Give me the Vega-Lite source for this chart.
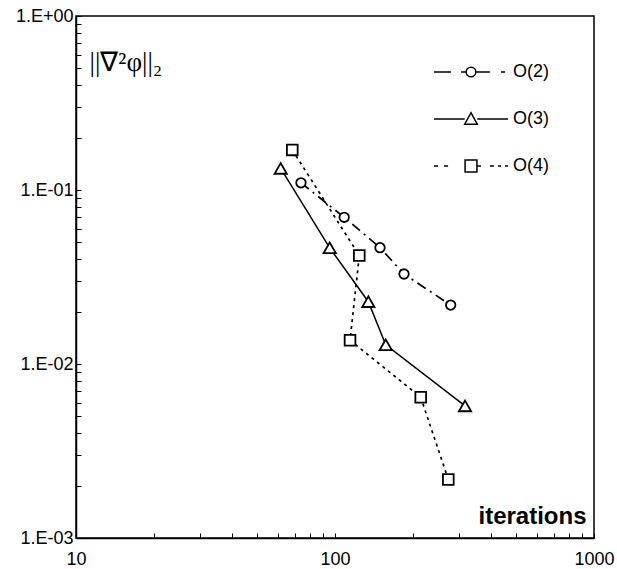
{
  "$schema": "https://vega.github.io/schema/vega-lite/v6.json",
  "width": 518,
  "height": 522,
  "autosize": {"type": "none"},
  "padding": {"left": 76, "top": 16, "right": 23, "bottom": 31},
  "background": "white",
  "config": {"view": {"stroke": "black", "strokeWidth": 1.5}, "font": "Liberation Sans"},
  "data": {"values": [
    {"series": "O(2)", "ord": 1, "x": 73.9, "y": 0.110},
    {"series": "O(2)", "ord": 2, "x": 108.5, "y": 0.0697},
    {"series": "O(2)", "ord": 3, "x": 149.2, "y": 0.0466},
    {"series": "O(2)", "ord": 4, "x": 184.7, "y": 0.0329},
    {"series": "O(2)", "ord": 5, "x": 279.7, "y": 0.0218},
    {"series": "O(3)", "ord": 1, "x": 61.7, "y": 0.133},
    {"series": "O(3)", "ord": 2, "x": 95.4, "y": 0.0465},
    {"series": "O(3)", "ord": 3, "x": 134.5, "y": 0.0228},
    {"series": "O(3)", "ord": 4, "x": 157.0, "y": 0.0129},
    {"series": "O(3)", "ord": 5, "x": 317.7, "y": 0.00574},
    {"series": "O(4)", "ord": 1, "x": 68.4, "y": 0.170},
    {"series": "O(4)", "ord": 2, "x": 124.1, "y": 0.042},
    {"series": "O(4)", "ord": 3, "x": 114.3, "y": 0.0137},
    {"series": "O(4)", "ord": 4, "x": 214.3, "y": 0.00644},
    {"series": "O(4)", "ord": 5, "x": 273.8, "y": 0.00217}
  ]},
  "encoding": {
    "x": {
      "field": "x", "type": "quantitative",
      "scale": {"type": "log", "domain": [10, 1000], "nice": false},
      "axis": {
        "values": [10, 20, 30, 40, 50, 60, 70, 80, 90, 100, 200, 300, 400, 500, 600, 700, 800, 900, 1000],
        "labelExpr": "datum.value == 10 ? '10' : datum.value == 100 ? '100' : datum.value == 1000 ? '1000' : ''",
        "labelOverlap": false, "labelFlush": false,
        "labelFont": "Liberation Sans", "labelFontSize": 18, "labelColor": "black",
        "tickSize": -5, "tickColor": "black", "tickWidth": 1, "labelPadding": 17,
        "domainColor": "black", "domainWidth": 1.5, "grid": false,
        "title": "iterations", "titleFont": "Liberation Sans", "titleFontWeight": "bold",
        "titleFontSize": 24, "titleColor": "black", "titleAlign": "right",
        "titleBaseline": "alphabetic", "titleX": 510, "titleY": -15
      }
    },
    "y": {
      "field": "y", "type": "quantitative",
      "scale": {"type": "log", "domain": [0.001, 1], "nice": false},
      "axis": {
        "values": [0.001, 0.002, 0.003, 0.004, 0.005, 0.006, 0.007, 0.008, 0.009, 0.01, 0.02, 0.03, 0.04, 0.05, 0.06, 0.07, 0.08, 0.09, 0.1, 0.2, 0.3, 0.4, 0.5, 0.6, 0.7, 0.8, 0.9, 1],
        "labelExpr": "datum.value == 1 ? '1.E+00' : datum.value == 0.1 ? '1.E-01' : datum.value == 0.01 ? '1.E-02' : datum.value == 0.001 ? '1.E-03' : ''",
        "labelOverlap": false, "labelFlush": false,
        "labelFont": "Liberation Sans", "labelFontSize": 18, "labelColor": "black",
        "tickSize": -5, "tickColor": "black", "tickWidth": 1, "labelPadding": 8,
        "domainColor": "black", "domainWidth": 1.5, "grid": false,
        "title": "||∇²φ||₂", "titleAngle": 0, "titleFont": "Liberation Serif",
        "titleFontWeight": "normal", "titleFontSize": 27, "titleColor": "black",
        "titleAlign": "left", "titleBaseline": "alphabetic", "titleX": 13, "titleY": 54
      }
    }
  },
  "layer": [
    {
      "transform": [{"filter": "datum.series === 'O(2)'"}],
      "mark": {"type": "line", "color": "black", "strokeWidth": 1.7, "strokeDash": [10, 5, 2, 5]},
      "encoding": {"order": {"field": "ord", "type": "quantitative"}}
    },
    {
      "transform": [{"filter": "datum.series === 'O(3)'"}],
      "mark": {"type": "line", "color": "black", "strokeWidth": 1.5},
      "encoding": {"order": {"field": "ord", "type": "quantitative"}}
    },
    {
      "transform": [{"filter": "datum.series === 'O(4)'"}],
      "mark": {"type": "line", "color": "black", "strokeWidth": 1.7, "strokeDash": [3, 4]},
      "encoding": {"order": {"field": "ord", "type": "quantitative"}}
    },
    {
      "mark": {"type": "point", "filled": false, "color": "black", "size": 0, "strokeWidth": 1.5},
      "encoding": {
        "shape": {
          "field": "series", "type": "nominal",
          "scale": {
            "domain": ["O(2)", "O(3)", "O(4)"],
            "range": [
              "M-1,0H-0.54M-0.27,0H-0.13M0.13,0H0.51M0.81,0H0.92M-0.13,0A0.13,0.13 0 1,0 0.13,0A0.13,0.13 0 1,0 -0.13,0Z",
              "M-1,0H-0.17M0.17,0H1M0,-0.17L0.17,0.14L-0.17,0.14Z",
              "M-1,0H-0.89M-0.73,0H-0.62M0.16,0H0.27M0.51,0H0.62M0.73,0H0.81M0.92,0H1M-0.16,-0.16H0.16V0.16H-0.16Z"
            ]
          },
          "legend": {
            "title": null, "orient": "none", "legendX": 357, "legendY": 18, "padding": 0,
            "symbolSize": 5476, "symbolStrokeColor": "black", "symbolStrokeWidth": 1.5,
            "symbolOpacity": 1,
            "labelFont": "Liberation Sans", "labelFontSize": 18, "labelColor": "black",
            "labelOffset": 4, "rowPadding": -22
          }
        }
      }
    },
    {
      "transform": [{"filter": "datum.series === 'O(2)'"}],
      "mark": {"type": "point", "shape": "circle", "size": 90, "filled": true, "fill": "white", "stroke": "black", "strokeWidth": 1.8, "opacity": 1},
      "encoding": {}
    },
    {
      "transform": [{"filter": "datum.series === 'O(3)'"}],
      "mark": {"type": "point", "shape": "triangle-up", "size": 150, "filled": true, "fill": "white", "stroke": "black", "strokeWidth": 1.8, "opacity": 1},
      "encoding": {}
    },
    {
      "transform": [{"filter": "datum.series === 'O(4)'"}],
      "mark": {"type": "point", "shape": "square", "size": 115, "filled": true, "fill": "white", "stroke": "black", "strokeWidth": 1.8, "opacity": 1},
      "encoding": {}
    }
  ]
}
